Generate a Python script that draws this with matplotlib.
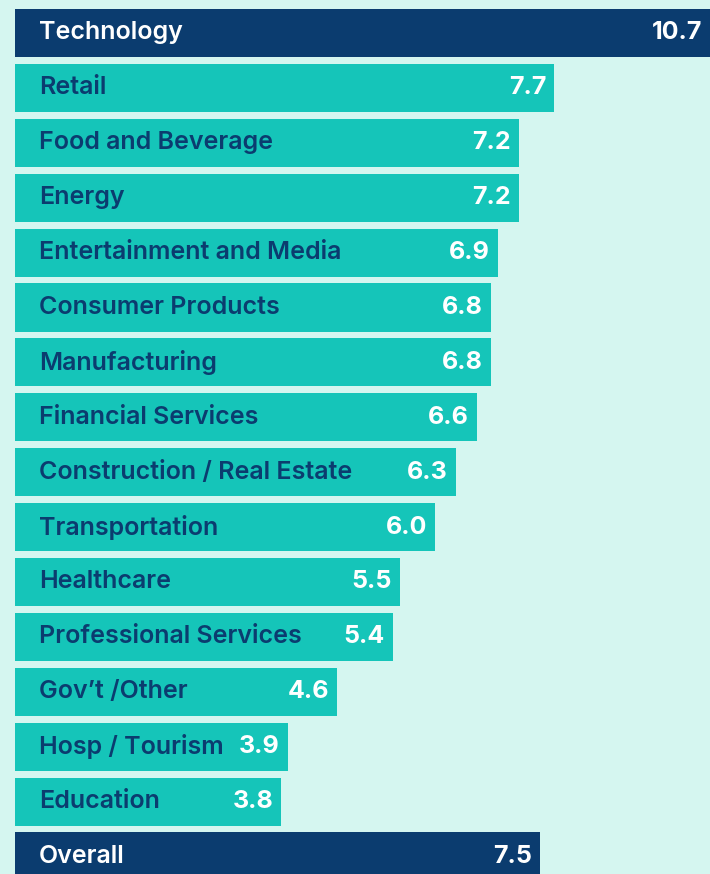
import matplotlib.pyplot as plt

# 업종별 값 (위에서 아래 순서)
categories = ['Technology', 'Retail', 'Food and Beverage', 'Energy',
              'Entertainment and Media', 'Consumer Products', 'Manufacturing',
              'Financial Services', 'Construction / Real Estate',
              'Transportation', 'Healthcare', 'Professional Services',
              'Gov\u2019t /Other', 'Hosp / Tourism', 'Education', 'Overall']
values = [10.7, 7.7, 7.2, 7.2, 6.9, 6.8, 6.8, 6.6, 6.3, 6.0, 5.5, 5.4,
          4.6, 3.9, 3.8, 7.5]
highlight = ['Technology', 'Overall']

NAVY = '#0b3c6f'
TEAL = '#15c5b9'
BG = '#d5f6f0'

plt.rcParams['font.family'] = ['Inter', 'DejaVu Sans']

fig = plt.figure(figsize=(7.10, 8.74), dpi=100, facecolor=BG)
ax = fig.add_axes([15 / 710, 0, 695 / 710, 1])
ax.set_facecolor(BG)

# 픽셀 기준으로 축 범위 맞추기 (약 70px = 1 단위)
xmax = 695 / 70.0
ax.set_xlim(0, xmax)
ax.set_ylim((874 - 33) / 54.9, -33 / 54.9)
ax.axis('off')

rows = list(range(len(categories)))
colors = [NAVY if c in highlight else TEAL for c in categories]
ax.barh(rows, values, height=0.875, color=colors)

for i, (cat, val) in enumerate(zip(categories, values)):
    hl = cat in highlight
    ax.annotate(cat, xy=(0, i), xytext=(24, 0), textcoords='offset pixels',
                ha='left', va='center', fontsize=18, fontweight='semibold',
                color='white' if hl else NAVY)
    # 축 밖으로 나가는 막대는 오른쪽 끝에 값 표시
    ax.annotate(f'{val:.1f}', xy=(min(val, xmax), i), xytext=(-8, 0),
                textcoords='offset pixels', ha='right', va='center',
                fontsize=18, fontweight='bold', color='white',
                annotation_clip=False)

fig.savefig('out.png', dpi=100, facecolor=BG)
